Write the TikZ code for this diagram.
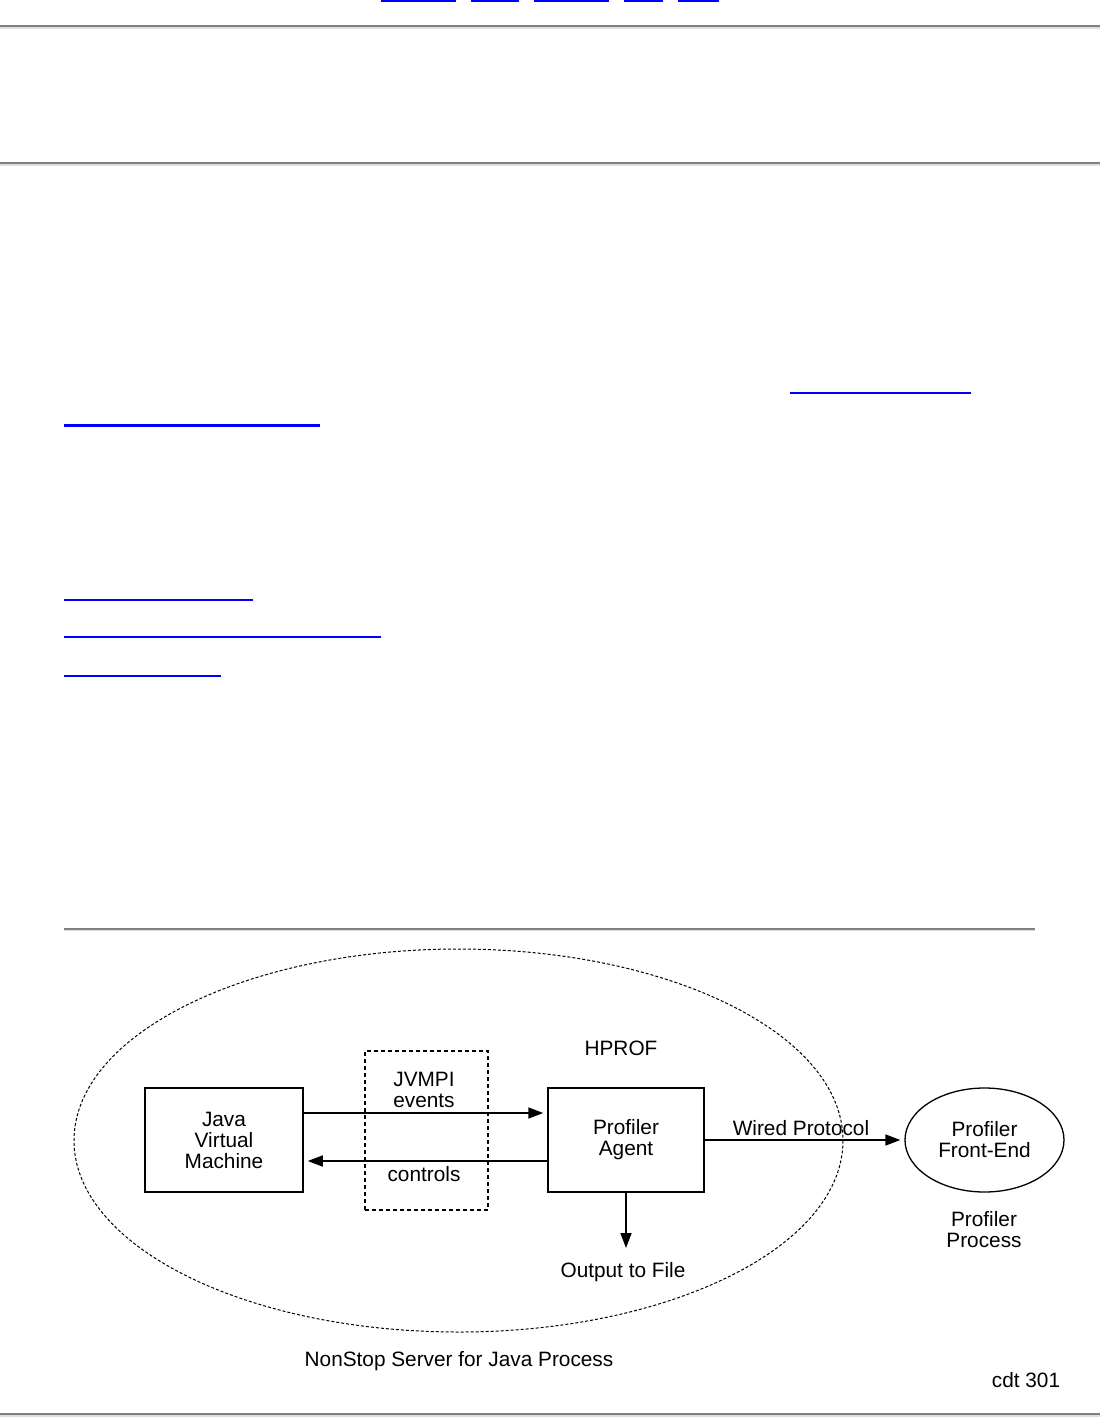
\documentclass[tikz,border=0pt]{standalone}
\usepackage{fontspec}
\setmainfont{Liberation Sans}
\usetikzlibrary{arrows.meta,shapes.geometric}
\definecolor{linkblue}{RGB}{0,0,255}
\definecolor{ruledark}{RGB}{128,128,128}
\definecolor{rulelight}{RGB}{222,222,222}
\begin{document}
\begin{tikzpicture}[x=1pt,y=-1pt,
  lbl/.style={font=\fontsize{20.8}{21}\selectfont, align=center, inner sep=0pt},
  blockbox/.style={draw, line width=1.5pt, minimum width=158pt, minimum height=104pt, inner sep=0pt, align=center, font=\fontsize{20.8}{21}\selectfont},
  conn/.style={line width=1.6pt, shorten >=4pt, -{Triangle[length=15pt,width=11pt]}},
  linkline/.style={linkblue, line width=1.6pt},
  darkrule/.style={ruledark, line width=2pt},
  lightrule/.style={rulelight, line width=2pt},
]
\useasboundingbox[fill=white] (0,0) rectangle (1100,1417);

% top link underlines (cut off)
\foreach \a/\b in {381/456, 471/519, 534/609, 624/663, 678/719}
  \fill[linkblue] (\a,0) rectangle (\b,1.5);

% page rules
\draw[darkrule] (0,26) -- (1100,26);
\draw[lightrule] (0,28) -- (1100,28);
\draw[darkrule] (0,162.5) -- (1100,162.5);
\draw[lightrule] (0,164.5) -- (1100,164.5);

% link underlines
\draw[linkline] (790,393) -- (971,393);
\draw[linkblue, line width=3pt] (64,425.5) -- (320,425.5);
\draw[linkline] (64,600) -- (253,600);
\draw[linkline] (64,637) -- (381,637);
\draw[linkline] (64,676) -- (221,676);

% figure rule
\draw[ruledark, line width=1.2pt] (64,929) -- (1035,929);
\draw[rulelight, line width=1.2pt] (64,930.5) -- (1035,930.5);

% big process ellipse
\draw[line width=1pt, dash pattern=on 3pt off 2pt] (458.5,1140.5) ellipse [x radius=384.5, y radius=191.5];

% dashed JVMPI box
\node[draw, line width=1.2pt, dash pattern=on 4pt off 3pt, minimum width=123pt, minimum height=159pt, inner sep=0pt] (jvmpi) at (426.5,1130.5) {};

% blocks
\node[blockbox] (jvm) at (224,1140) {Java\\Virtual\\Machine};
\node[blockbox, minimum width=156pt] (agent) at (626,1140) {Profiler\\Agent};
\node[draw, ellipse, line width=1.3pt, minimum width=159pt, minimum height=104pt, inner sep=0pt, align=center, font=\fontsize{20.8}{21}\selectfont] (fe) at (984.5,1140) {Profiler\\Front-End};

% labels
\node[lbl] (hprof) at (621,1048) {HPROF};
\node[lbl] (evlbl) at (424,1090) {JVMPI\\events};
\node[lbl] (ctl) at (424,1174) {controls};
\node[lbl] (wired) at (801,1128) {Wired Protocol};
\node[lbl] (pproc) at (984,1230) {Profiler\\Process};
\node[lbl] (outf) at (623,1272) {Output to File};
\node[lbl] (nss) at (459,1361) {NonStop Server for Java Process};
\node[lbl] (cdt) at (1026,1380) {cdt 301};

% connectors
\coordinate (outend) at (626,1252);
\draw[conn] ([yshift=27pt]jvm.east) -- ([yshift=27pt]agent.west);
\draw[conn] ([yshift=-21pt]agent.west) -- ([yshift=-21pt]jvm.east);
\draw[conn] (agent.east) -- (fe.west);
\draw[conn] (agent.south) -- (outend);

% bottom rule
\draw[darkrule] (0,1413.5) -- (1100,1413.5);
\draw[lightrule] (0,1415.5) -- (1100,1415.5);
\end{tikzpicture}
\end{document}
